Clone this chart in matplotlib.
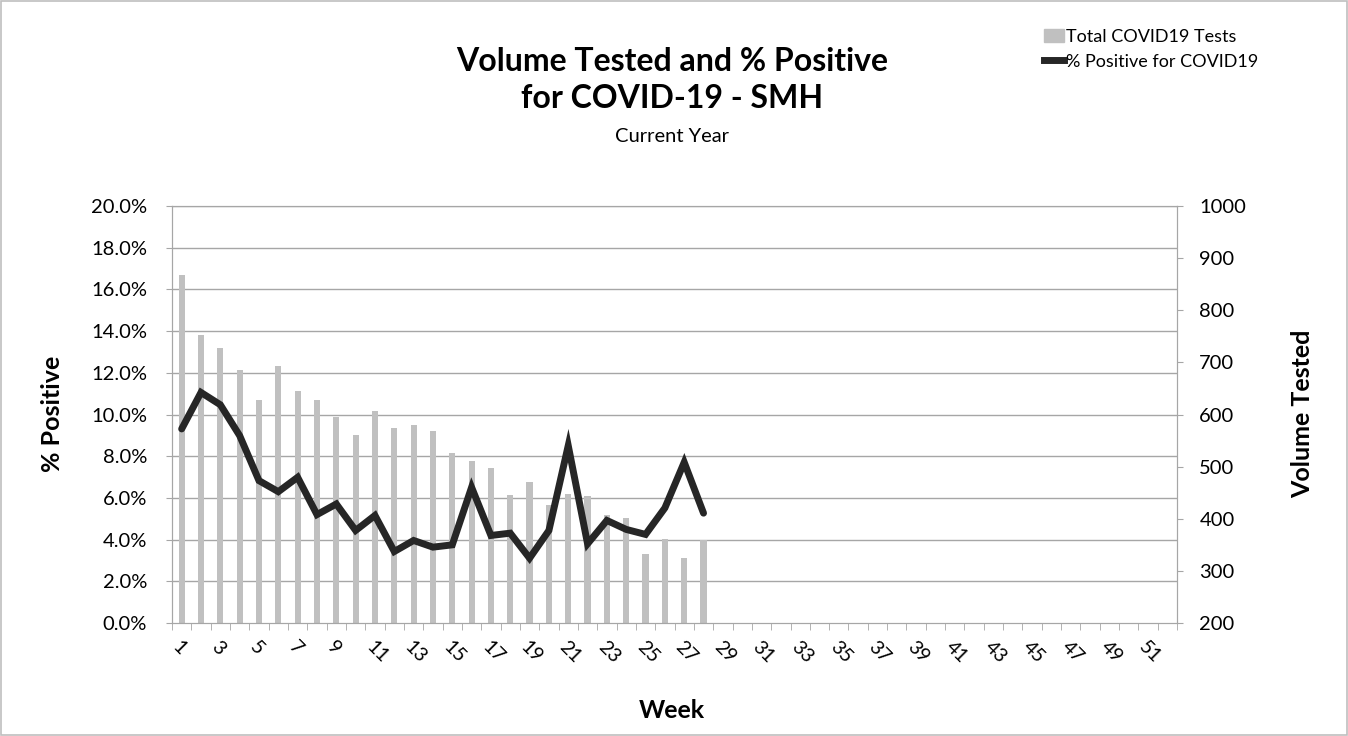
import numpy as np
import matplotlib
matplotlib.use('Agg')
import matplotlib.pyplot as plt
from matplotlib.patches import Rectangle
from matplotlib.lines import Line2D
from matplotlib.ticker import FixedLocator, PercentFormatter

plt.rcParams['font.family'] = ['Lato', 'DejaVu Sans']

weeks = list(range(1, 53))
tests = [868, 752, 727, 686, 628, 694, 645, 628, 595, 561, 607, 574, 579, 568,
         526, 510, 498, 446, 470, 427, 447, 444, 408, 402, 332, 362, 325, 360]
pct_pos = [9.31, 11.06, 10.47, 8.99, 6.83, 6.30, 6.99, 5.20, 5.71, 4.44, 5.16, 3.43,
           3.96, 3.64, 3.75, 6.51, 4.20, 4.31, 3.11, 4.44, 8.51, 3.80, 4.92, 4.49,
           4.25, 5.52, 7.71, 5.27]
week_labels = [str(w) for w in weeks[::2]]

grid_col = '#a6a6a6'
bar_col = '#c0c0c0'
line_col = '#262626'

fig = plt.figure(figsize=(13.48, 7.36), dpi=100)
fig.patches.append(Rectangle((0.001, 0.001), 0.998, 0.997, transform=fig.transFigure,
                             fill=False, edgecolor='#bfbfbf', linewidth=1.2))

ax = fig.add_axes([0.1276, 0.1535, 0.7456, 0.5665])
ax2 = ax.twinx()

x_data = np.arange(1, len(tests) + 1)
ax2.bar(x_data, tests, width=0.32, color=bar_col, zorder=2)
ax2.set_ylim(200, 1000)
ax2.set_yticks(range(200, 1001, 100))

ax.plot(x_data, np.array(pct_pos) / 100, color=line_col, linewidth=5,
        solid_joinstyle='miter', solid_capstyle='round', zorder=5)
ax.set_ylim(0, 0.2)
ax.set_yticks(np.arange(0, 0.2001, 0.02))
ax.yaxis.set_major_formatter(PercentFormatter(1.0, decimals=1))
ax.set_zorder(ax2.get_zorder() + 1)
ax.patch.set_visible(False)

# gridlines drawn behind the bars
for v in np.arange(0.02, 0.2001, 0.02):
    ax2.axhline(200 + v / 0.2 * 800, color=grid_col, linewidth=1, zorder=0)

ax.set_xlim(0.5, 52.5)
ax.set_xticks(weeks[::2])
ax.set_xticklabels(week_labels, rotation=-45, ha='left', va='top',
                   rotation_mode='anchor', fontsize=14)
ax.xaxis.set_minor_locator(FixedLocator(np.arange(0.5, 53, 1)))
ax.tick_params(axis='x', which='major', length=0, pad=11)
ax.tick_params(axis='x', which='minor', length=5, color=grid_col)
ax.tick_params(axis='y', labelsize=14.5, length=4, color=grid_col, pad=14)
ax2.tick_params(axis='y', labelsize=14.5, length=4, color=grid_col, pad=12)

for a in (ax, ax2):
    for s in a.spines.values():
        s.set_color(grid_col)

fig.text(0.039, 0.4375, '% Positive', rotation=90, ha='center', va='center',
         fontsize=18, fontweight='bold')
fig.text(0.9665, 0.4375, 'Volume Tested', rotation=90, ha='center', va='center',
         fontsize=18, fontweight='bold')
fig.text(0.4985, 0.034, 'Week', ha='center', va='center', fontsize=18, fontweight='bold')

fig.text(0.4985, 0.9158, 'Volume Tested and % Positive', ha='center', va='center',
         fontsize=23, fontweight='bold')
fig.text(0.4985, 0.8655, 'for COVID-19 - SMH', ha='center', va='center',
         fontsize=23, fontweight='bold')
fig.text(0.4985, 0.8139, 'Current Year', ha='center', va='center', fontsize=14.5)

handles = [Rectangle((0, 0), 1, 1, color=bar_col),
           Line2D([0], [0], color=line_col, linewidth=5)]
fig.legend(handles, ['Total COVID19 Tests', '% Positive for COVID19'],
           loc='upper left', bbox_to_anchor=(0.7745, 0.961), frameon=False,
           borderpad=0, borderaxespad=0, fontsize=13, handlelength=1.1,
           handletextpad=0.1, labelspacing=0.5)

plt.savefig('out.png', dpi=100)
